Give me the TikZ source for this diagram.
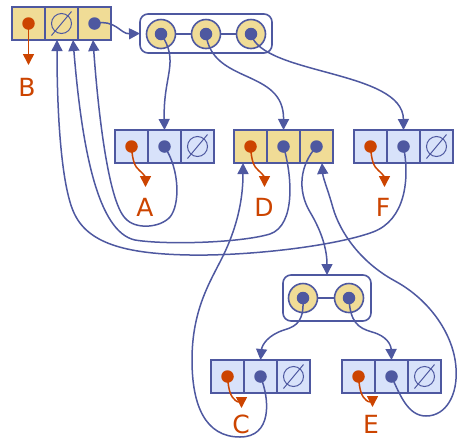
\documentclass[tikz,border=0pt]{standalone}
\usepackage{fontspec}
\setmainfont{DejaVu Sans}
\usetikzlibrary{arrows.meta,calc}

\definecolor{ink}{HTML}{4E58A0}
\definecolor{gold}{HTML}{F0DC96}
\definecolor{pale}{HTML}{D8E2FA}
\definecolor{rust}{HTML}{CC4400}

\tikzset{
  cell/.style={draw=ink, line width=1.6pt, minimum width=33pt, minimum height=33pt,
               inner sep=0pt, outer sep=0pt},
  goldcell/.style={cell, fill=gold},
  palecell/.style={cell, fill=pale},
  holder/.style={draw=ink, line width=1.6pt, rounded corners=8pt, fill=white,
                 inner sep=0pt, outer sep=0pt},
  slot/.style={circle, draw=ink, line width=1.6pt, fill=gold, minimum size=29pt,
               inner sep=0pt, outer sep=0pt},
  bdot/.style={circle, fill=ink, minimum size=12.5pt, inner sep=0pt},
  rdot/.style={circle, fill=rust, minimum size=12.5pt, inner sep=0pt},
  link/.style={draw=ink, line width=1.5pt, -{Triangle[length=11pt,width=11pt]}},
  ref/.style={draw=rust, line width=1.5pt, -{Triangle[length=11pt,width=11pt]}},
  tag/.style={text=rust, font=\fontsize{25}{25}\selectfont, inner sep=0pt},
}

% three adjoining cells #1-1, #1-2, #1-3 with top-left corner (#2,#3)
\newcommand\recordrow[4]{%
  \node[#4, anchor=north west] (#1-1) at (#2,#3) {};
  \node[#4, anchor=west] (#1-2) at (#1-1.east) {};
  \node[#4, anchor=west] (#1-3) at (#1-2.east) {};
}
% empty-pointer mark inside a cell
\newcommand\nullmark[1]{%
  \draw[ink, line width=1pt] (#1.center) circle (10pt);
  \draw[ink, line width=1pt] ([shift={(-10pt,-12pt)}]#1.center) -- ([shift={(10pt,12pt)}]#1.center);
}
% small wavy arrow from a cell's dot down to its letter
\newcommand\redlink[2]{%
  \draw[ref] (#1.center) .. controls ($(#1.center)+(1,14)$) and ($(#1.center)+(3,20)$)
    .. ($(#1.center)+(8,24)$) .. controls ($(#1.center)+(13,28)$) and ($(#2)+(0,-9)$) .. (#2);
}

\begin{document}
\begin{tikzpicture}[x=1pt,y=-1pt]
\useasboundingbox (0,0) rectangle (458,440);

% records
\recordrow{T}{12}{7}{goldcell}
\recordrow{A}{115}{130}{palecell}
\recordrow{D}{234}{130}{goldcell}
\recordrow{F}{354}{130}{palecell}
\recordrow{C}{211}{360}{palecell}
\recordrow{E}{342}{360}{palecell}
\nullmark{T-2}
\nullmark{A-3}
\nullmark{F-3}
\nullmark{C-3}
\nullmark{E-3}

% tuple holders
\node[holder, minimum width=132pt, minimum height=39pt, anchor=north west] (top) at (140,14) {};
\node[slot] (Q1) at (161,34) {};
\node[slot] (Q2) at (206,34) {};
\node[slot] (Q3) at (251,34) {};
\draw[ink, line width=1.6pt] (Q1) -- (Q2) (Q2) -- (Q3);

\node[holder, minimum width=88pt, minimum height=46pt, anchor=north west] (mid) at (283,275) {};
\node[slot] (M1) at (303,298) {};
\node[slot] (M2) at (349,298) {};
\draw[ink, line width=1.6pt] (M1) -- (M2);

% pointers
\draw[link] (T-3.center) .. controls (116,19) and (120,34) .. (top.west);
\draw[link] (Q1.center) .. controls (180,62) and (163,75) .. (A-2.north);
\draw[link] (Q2.center) .. controls (212,85) and (284,68) .. (D-2.north);
\draw[link] (Q3.center) .. controls (262,75) and (403,70) .. (F-2.north);

\draw[link] (A-2.center) .. controls (180,170) and (180,205) .. (170,217)
  .. controls (160,228) and (135,230) .. (125,218)
  .. controls (108,200) and (98,110) .. ([xshift=-1.5pt]T-3.south);
\draw[link] (D-2.center) .. controls (292,175) and (296,225) .. (270,234)
  .. controls (240,243) and (165,245) .. (135,240)
  .. controls (98,232) and (82,150) .. ([xshift=11.5pt]T-2.south);
\draw[link] (F-2.center) .. controls (410,180) and (405,220) .. (373,232)
  .. controls (335,246) and (250,256) .. (190,255)
  .. controls (130,254) and (90,245) .. (75,215)
  .. controls (62,190) and (57,120) .. ([xshift=-4.5pt]T-2.south);

\draw[link] (D-3.center) .. controls (300,165) and (297,190) .. (310,212)
  .. controls (322,232) and (327,250) .. (mid.north);
\draw[link] (E-2.center) .. controls (400,395) and (408,416) .. (426,416)
  .. controls (446,416) and (458,395) .. (456,368)
  .. controls (454,335) and (430,300) .. (395,281)
  .. controls (360,262) and (340,232) .. (333,208)
  .. controls (328,190) and (323,178) .. ([xshift=5.5pt]D-3.south);
\draw[link] (C-2.center) .. controls (270,400) and (272,437) .. (240,437)
  .. controls (205,437) and (192,405) .. (192,360)
  .. controls (192,310) and (210,282) .. (222,258)
  .. controls (237,228) and (243,200) .. ([xshift=-7.5pt]D-1.south);

\draw[link] (M1.center) .. controls (304,320) and (298,326) .. (284,330)
  .. controls (268,335) and (262,345) .. (C-2.north);
\draw[link] (M2.center) .. controls (350,322) and (358,328) .. (372,332)
  .. controls (387,336) and (391,345) .. (E-2.north);

% name arrows
\coordinate (tipB) at (28.5,65);
\coordinate (tipA) at (145.5,187);
\coordinate (tipD) at (264.5,187);
\coordinate (tipF) at (384.5,187);
\coordinate (tipC) at (241.5,408);
\coordinate (tipE) at (372.5,407);
\draw[ref] (T-1.center) -- (tipB);
\redlink{A-1}{tipA}
\redlink{D-1}{tipD}
\redlink{F-1}{tipF}
\redlink{C-1}{tipC}
\redlink{E-1}{tipE}

% dots
\foreach \c in {T-3,A-2,D-2,D-3,F-2,C-2,E-2,Q1,Q2,Q3,M1,M2}
  \node[bdot] (\c-dot) at (\c.center) {};
\foreach \c in {T-1,A-1,D-1,F-1,C-1,E-1}
  \node[rdot] (\c-dot) at (\c.center) {};

% letters
\node[tag] (labB) at (27,87) {B};
\node[tag] (labA) at (145,207) {A};
\node[tag] (labD) at (264,207) {D};
\node[tag] (labF) at (383,207) {F};
\node[tag] (labC) at (241,424) {C};
\node[tag] (labE) at (371,424) {E};
\end{tikzpicture}
\end{document}
